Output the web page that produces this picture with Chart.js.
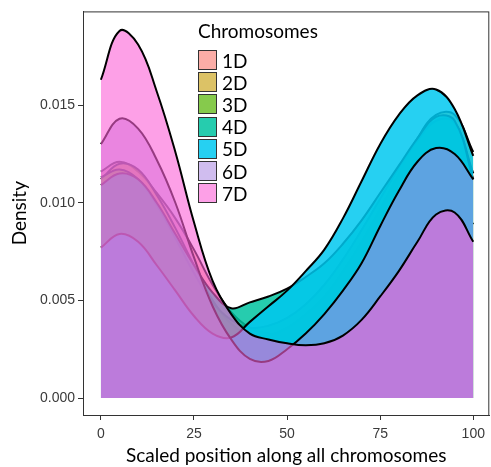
<!DOCTYPE html>
<html>
<head>
<meta charset="utf-8">
<script src="https://cdn.jsdelivr.net/npm/chart.js@4.4.1/dist/chart.umd.min.js"></script>
<style>
    body { margin: 0; background: #fff; }
    #wrap { position: relative; width: 491px; height: 467px; }
    #legend { position: absolute; left: 198px; top: 20px; font-family: Lato, sans-serif; color: #000; }
    #legend .title { font-size: 19px; line-height: 22px; margin-bottom: 7px; }
    #legend .row { display: flex; align-items: center; height: 22.2px; }
    #legend .box { width: 17px; height: 18px; border: 1.5px solid #333; margin-right: 5px; }
    #legend .lbl { font-size: 19px; }
</style>
</head>
<body>
<div id="wrap">
    <canvas id="chart" width="491" height="467"></canvas>
    <div id="legend"></div>
</div>
<script>
// scaled position (x) and density per chromosome
const positions = [0, 5, 10, 15, 20, 25, 30, 35, 40, 45, 50, 55, 60, 65, 70, 75, 80, 85, 90, 95, 100];
const chromosomes = ['1D', '2D', '3D', '4D', '5D', '6D', '7D'];

const density1D = [0.0116, 0.0121, 0.0116, 0.0105, 0.0092, 0.0076, 0.0058, 0.0044, 0.0036, 0.0033, 0.0034, 0.0038, 0.0045, 0.0055, 0.0068, 0.0083, 0.0100, 0.0112, 0.0112, 0.0102, 0.0089];
const density2D = [0.0112, 0.0120, 0.0117, 0.0104, 0.0087, 0.0068, 0.0050, 0.0038, 0.0032, 0.0032, 0.0036, 0.0043, 0.0052, 0.0065, 0.0080, 0.0097, 0.0115, 0.0133, 0.0145, 0.0145, 0.0126];
const density3D = [0.0113, 0.0117, 0.0112, 0.0099, 0.0082, 0.0064, 0.0049, 0.0040, 0.0036, 0.0037, 0.0041, 0.0048, 0.0058, 0.0071, 0.0086, 0.0102, 0.0118, 0.0132, 0.0142, 0.0141, 0.0115];
const density4D = [0.0109, 0.0115, 0.0112, 0.0100, 0.0084, 0.0068, 0.0054, 0.0046, 0.0049, 0.0052, 0.0056, 0.0062, 0.0069, 0.0079, 0.0091, 0.0105, 0.0119, 0.0133, 0.0144, 0.0142, 0.0112];
const density5D = [0.0077, 0.0084, 0.0080, 0.0068, 0.0055, 0.0042, 0.0033, 0.0031, 0.0039, 0.0047, 0.0055, 0.0065, 0.0076, 0.0092, 0.0111, 0.0130, 0.0145, 0.0155, 0.0158, 0.0148, 0.0124];
const density6D = [0.0130, 0.0143, 0.0138, 0.0122, 0.0100, 0.0072, 0.0047, 0.0030, 0.0020, 0.0019, 0.0025, 0.0033, 0.0043, 0.0055, 0.0069, 0.0088, 0.0106, 0.0121, 0.0128, 0.0125, 0.0112];
const density7D = [0.0163, 0.0188, 0.0181, 0.0157, 0.0126, 0.0090, 0.0060, 0.0043, 0.0033, 0.0030, 0.0028, 0.0027, 0.0028, 0.0032, 0.0040, 0.0052, 0.0065, 0.0080, 0.0094, 0.0095, 0.0080];

const xTicks = [0, 25, 50, 75, 100];
const yTicks = [0, 0.005, 0.010, 0.015];

const fillColors = [
    'rgba(248, 118, 109, 0.6)',
    'rgba(196, 154, 0, 0.6)',
    'rgba(83, 180, 0, 0.7)',
    'rgba(0, 195, 160, 0.85)',
    'rgba(0, 200, 240, 0.85)',
    'rgba(170, 135, 225, 0.55)',
    'rgba(251, 97, 215, 0.6)'
];

const allDensities = [density1D, density2D, density3D, density4D, density5D, density6D, density7D];

// panel frame (top / right edges; the axes draw left / bottom)
const panelBorder = {
    id: 'panelBorder',
    afterDraw(chart) {
        const { ctx, chartArea: a } = chart;
        ctx.save();
        ctx.strokeStyle = '#333';
        ctx.lineWidth = 1;
        ctx.strokeRect(a.left + 0.5, a.top + 0.5, a.right - a.left - 1, a.bottom - a.top);
        ctx.restore();
    }
};

function buildLegend() {
    const el = document.getElementById('legend');
    let html = '<div class="title">Chromosomes</div>';
    chromosomes.forEach((name, i) => {
        html += `<div class="row"><div class="box" style="background:${fillColors[i]}"></div><span class="lbl">${name}</span></div>`;
    });
    el.innerHTML = html;
}

const datasets = chromosomes.map((name, i) => ({
    label: name,
    data: positions.map((x, j) => ({ x: x, y: allDensities[i][j] })),
    backgroundColor: fillColors[i],
    borderColor: '#000',
    borderWidth: 2,
    fill: 'origin',
    tension: 0.4,
    pointRadius: 0,
    order: chromosomes.length - 1 - i   // 7D drawn last, on top
}));

const tickFont = { family: "'Liberation Sans', Arial, sans-serif", size: 14 };
const titleFont = { family: 'Lato, sans-serif', size: 19 };

new Chart(document.getElementById('chart'), {
    type: 'line',
    data: { datasets },
    options: {
        responsive: false,
        animation: false,
        layout: { padding: { top: 11, right: 1, left: 0, bottom: 0 } },
        plugins: { legend: { display: false }, tooltip: { enabled: false } },
        scales: {
            x: {
                type: 'linear',
                min: -4.8,
                max: 104.3,
                afterBuildTicks: s => { s.ticks = xTicks.map(v => ({ value: v })); },
                afterFit: s => { s.height = 52; },
                grid: { drawOnChartArea: false, drawTicks: true, tickLength: 5, color: '#333' },
                border: { display: true, color: '#333', width: 1 },
                ticks: { font: tickFont, color: '#3a3a3a', padding: 6, maxRotation: 0 },
                title: { display: true, text: 'Scaled position along all chromosomes', font: titleFont, color: '#000', padding: { top: 2, bottom: 0 } }
            },
            y: {
                type: 'linear',
                min: -0.00087,
                max: 0.0198,
                afterBuildTicks: s => { s.ticks = yTicks.map(v => ({ value: v })); },
                afterFit: s => { s.width = 83; },
                grid: { drawOnChartArea: false, drawTicks: true, tickLength: 5, color: '#333' },
                border: { display: true, color: '#333', width: 1 },
                ticks: { font: tickFont, color: '#3a3a3a', padding: 3, callback: v => v.toFixed(3) },
                title: { display: true, text: 'Density', font: titleFont, color: '#000', padding: { top: 8, bottom: 0 } }
            }
        }
    },
    plugins: [panelBorder]
});

buildLegend();
</script>
</body>
</html>
